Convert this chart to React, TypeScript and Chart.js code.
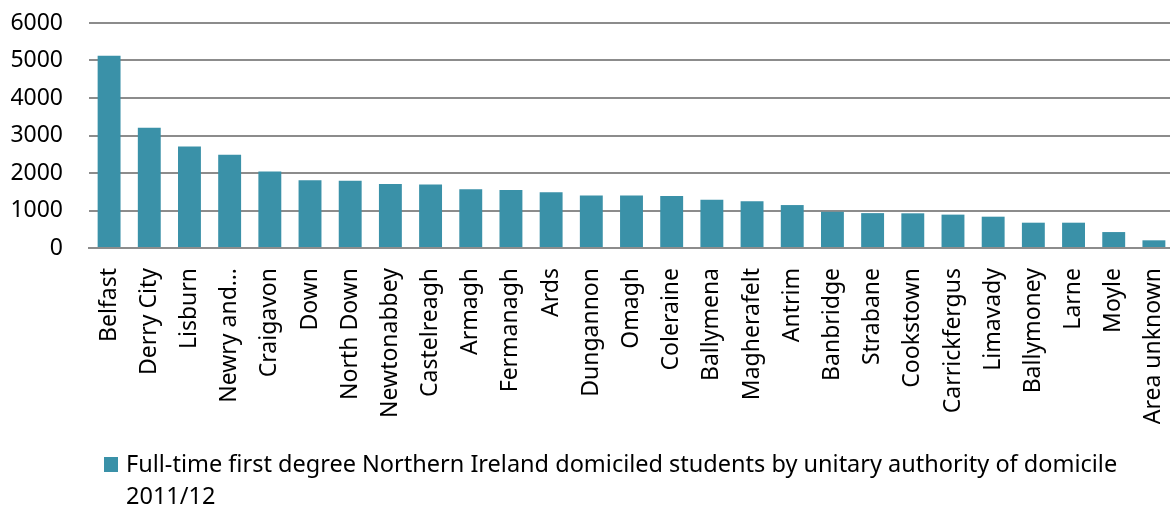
import React, { useEffect, useRef } from "react";
import { Chart, registerables } from "chart.js";

Chart.register(...registerables);

const categories = [
  "Belfast", "Derry City", "Lisburn", "Newry and…", "Craigavon", "Down",
  "North Down", "Newtonabbey", "Castelreagh", "Armagh", "Fermanagh", "Ards",
  "Dungannon", "Omagh", "Coleraine", "Ballymena", "Magherafelt", "Antrim",
  "Banbridge", "Strabane", "Cookstown", "Carrickfergus", "Limavady",
  "Ballymoney", "Larne", "Moyle", "Area unknown",
];

const students = [
  5130, 3210, 2705, 2485, 2040, 1810, 1795, 1705, 1695, 1570, 1545, 1490,
  1400, 1400, 1385, 1290, 1250, 1145, 965, 930, 925, 890, 835, 675, 675,
  425, 205,
];

const seriesLabel = [
  "Full-time first degree Northern Ireland domiciled students by unitary authority of domicile",
  "2011/12",
];

const yTicks = [0, 1000, 2000, 3000, 4000, 5000, 6000];

const BAR_COLOR = "#3a91a8";
const GRID_COLOR = "#8c8c8c";
const FONT_FAMILY = '"Noto Sans", "Open Sans", sans-serif';
const FONT_SIZE = 23;
const LEGEND_FONT_SIZE = 23.5;

const legendPlugin = {
  id: "wrappedLegend",
  afterDraw(chart: any) {
    const ctx = chart.ctx as CanvasRenderingContext2D;
    ctx.save();
    ctx.fillStyle = BAR_COLOR;
    ctx.fillRect(104, 457, 14, 15);
    ctx.fillStyle = "#000";
    ctx.font = `${LEGEND_FONT_SIZE}px ${FONT_FAMILY}`;
    ctx.textBaseline = "alphabetic";
    ctx.textAlign = "left";
    ctx.fillText(seriesLabel[0], 126, 472);
    ctx.fillText(seriesLabel[1], 126, 504);
    ctx.restore();
  },
};

export default function App() {
  const canvasRef = useRef<HTMLCanvasElement | null>(null);

  useEffect(() => {
    document.body.style.margin = "0";
    const canvas = canvasRef.current;
    if (!canvas) return;
    const chart = new Chart(canvas, {
      type: "bar",
      data: {
        labels: categories,
        datasets: [
          {
            label: seriesLabel.join(" "),
            data: students,
            backgroundColor: BAR_COLOR,
            borderWidth: 0,
            categoryPercentage: 1,
            barPercentage: 0.57,
          },
        ],
      },
      options: {
        responsive: false,
        animation: false,
        devicePixelRatio: 1,
        layout: { padding: { top: 23, left: 0, right: 6, bottom: 90 } },
        plugins: {
          legend: { display: false },
          tooltip: { enabled: false },
          title: { display: false },
        },
        font: { family: FONT_FAMILY, size: FONT_SIZE },
        scales: {
          x: {
            grid: { display: false, drawTicks: false },
            border: { display: true, color: GRID_COLOR, width: 2 },
            ticks: {
              autoSkip: false,
              maxRotation: 90,
              minRotation: 90,
              padding: 20,
              color: "#000",
              font: { family: FONT_FAMILY, size: FONT_SIZE },
            },
            afterFit(scale: any) {
              scale.height = 176;
              scale.paddingLeft = 0;
              scale.paddingRight = 0;
            },
          },
          y: {
            min: 0,
            max: 6000,
            afterBuildTicks(scale: any) {
              scale.ticks = yTicks.map((v) => ({ value: v }));
            },
            grid: { color: GRID_COLOR, lineWidth: 2, drawTicks: false },
            border: { display: false },
            ticks: {
              padding: 26,
              color: "#000",
              font: { family: FONT_FAMILY, size: FONT_SIZE },
              callback: (v: any) => String(v),
            },
            afterFit(scale: any) {
              scale.width = 89;
              scale.paddingTop = 0;
              scale.paddingBottom = 0;
            },
          },
        },
      },
      plugins: [legendPlugin],
    });
    return () => chart.destroy();
  }, []);

  return (
    <div style={{ width: 1170, height: 514, overflow: "hidden", position: "relative" }}>
      <canvas ref={canvasRef} width={1180} height={514} style={{ display: "block", width: 1180, height: 514 }} />
    </div>
  );
}
